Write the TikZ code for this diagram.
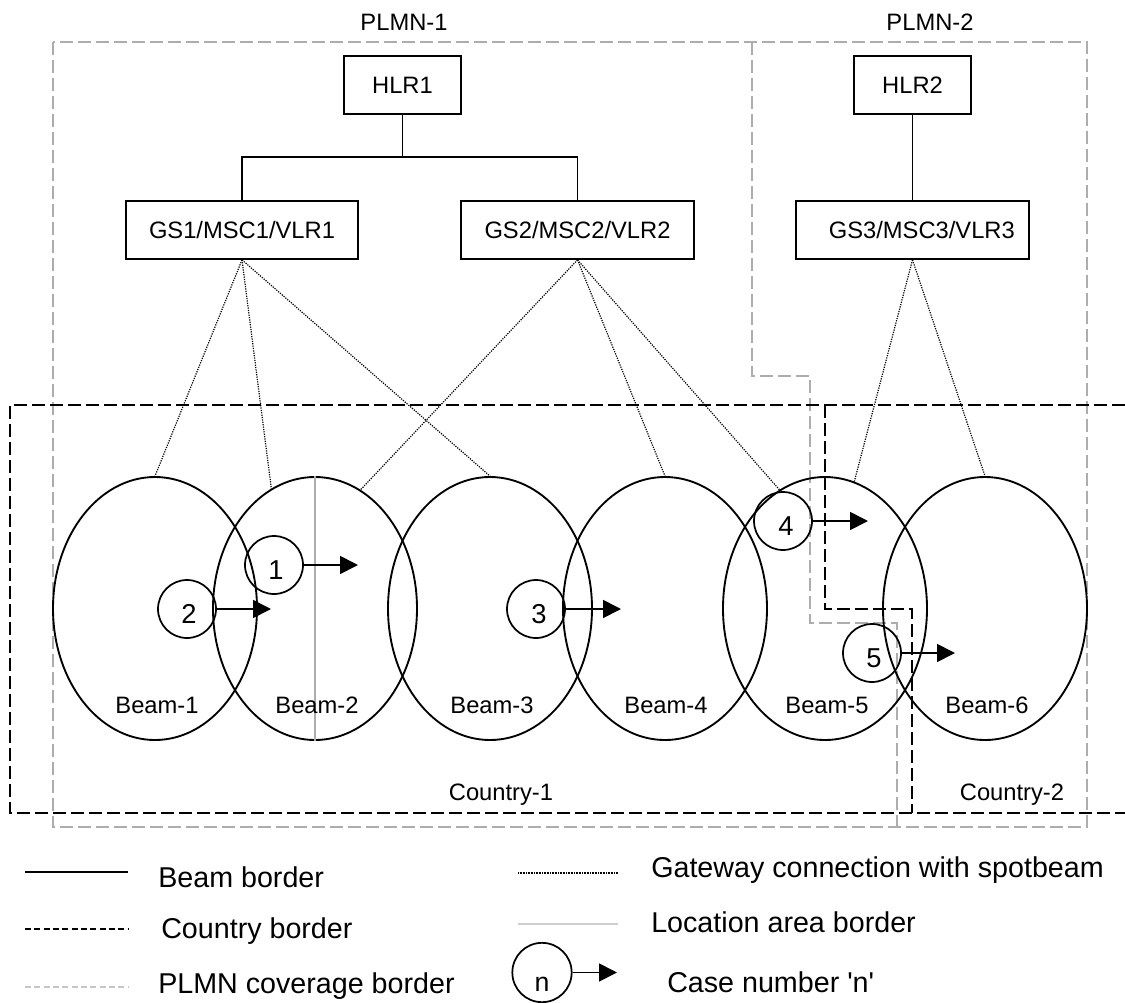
\documentclass[tikz,border=0pt]{standalone}
\usepackage{fontspec}
\setmainfont{Liberation Sans}
\usetikzlibrary{shapes.geometric,arrows.meta}

\definecolor{plmngray}{gray}{0.68}
\definecolor{lagray}{gray}{0.68}

\begin{document}
\begin{tikzpicture}[x=0.75pt,y=-0.75pt,
  txt/.style={font=\fontsize{17.8}{20}\selectfont, inner sep=0},
  legtxt/.style={font=\fontsize{21.5}{24}\selectfont, inner sep=0, anchor=west},
  numtxt/.style={font=\fontsize{20.5}{22}\selectfont, inner sep=0},
  netbox/.style={draw, line width=1.3pt, minimum height=43.5pt, inner sep=0,
                 font=\fontsize{17.8}{20}\selectfont},
  hlrbox/.style={netbox, minimum width=87.75pt},
  gsbox/.style={netbox, minimum width=174.5pt},
  beam/.style={draw, ellipse, line width=1.4pt, minimum width=153pt,
               minimum height=197.25pt, inner sep=0},
  casecirc/.style={draw, circle, line width=1.3pt, minimum size=43.5pt, inner sep=0},
  casearrow/.style={line width=1.3pt, -{Triangle[length=13.5pt,width=13.5pt]}},
  gwlink/.style={line width=0.9pt, dash pattern=on 0.9pt off 0.9pt},
  cntryborder/.style={line width=1.5pt, dash pattern=on 9.5pt off 4pt},
  plmnborder/.style={line width=1.2pt, plmngray, dash pattern=on 9.5pt off 4pt},
  laborder/.style={line width=1.2pt, lagray},
  link/.style={line width=1.3pt}
]
\useasboundingbox (0,0) rectangle (1125,1003);

% ---------- PLMN coverage borders ----------
\draw[plmnborder] (53,42) rectangle (1087,827);
\draw[plmnborder] (752,42) -- (752,376) -- (810,376) -- (810,623)
                  -- (897,623) -- (897,827);
\node[txt] (plmn1) at (404,22) {PLMN-1};
\node[txt] (plmn2) at (930,22) {PLMN-2};

% ---------- Country borders ----------
\draw[cntryborder] (1125,405) -- (10,405) -- (10,813) -- (1125,813);
\draw[cntryborder] (825,405) -- (825,609) -- (912,609) -- (912,813);
\node[txt] (cty1) at (501,795) {Country-1};
\node[txt] (cty2) at (1012,795) {Country-2};

% ---------- Network elements ----------
\node[hlrbox] (hlr1) at (402.5,85) {HLR1};
\node[hlrbox] (hlr2) at (912.5,85) {HLR2};
\node[gsbox] (gs1) at (242,230) {GS1/MSC1/VLR1};
\node[gsbox] (gs2) at (577.5,230) {GS2/MSC2/VLR2};
\node[gsbox] (gs3) at (912.5,230) {\hspace*{14pt}GS3/MSC3/VLR3};

\coordinate (split) at (402.5,157);
\draw[link] (hlr1.south) -- (split);
\draw[link] (gs1.north) |- (split) -| (gs2.north);
\draw[link] (hlr2.south) -- (gs3.north);

% ---------- Spot beams ----------
\node[beam] (b1) at (155,608.5) {};
\node[beam] (b2) at (315,608.5) {};
\node[beam] (b3) at (490,608.5) {};
\node[beam] (b4) at (665,608.5) {};
\node[beam] (b5) at (825,608.5) {};
\node[beam] (b6) at (985,608.5) {};

% location area border inside Beam-2
\draw[laborder] (b2.north) -- (b2.south);

\node[txt] (lb1) at (157,705) {Beam-1};
\node[txt] (lb2) at (317,705) {Beam-2};
\node[txt] (lb3) at (492,705) {Beam-3};
\node[txt] (lb4) at (666,705) {Beam-4};
\node[txt] (lb5) at (827,705) {Beam-5};
\node[txt] (lb6) at (987,705) {Beam-6};

% ---------- Gateway connections ----------
\draw[gwlink] (gs1.south) -- (b1.north);
\draw[gwlink] (gs1.south) -- (b2.110);
\draw[gwlink] (gs1.south) -- (b3.north);
\draw[gwlink] (gs2.south) -- (b2.69);
\draw[gwlink] (gs2.south) -- (b4.north);
\draw[gwlink] (gs2.south) -- (b5.111);
\draw[gwlink] (gs3.south) -- (b5.77);
\draw[gwlink] (gs3.south) -- (b6.north);

% ---------- Cases ----------
\node[casecirc] (c1) at (274,565) {};
\node[casecirc] (c2) at (187,609) {};
\node[casecirc] (c3) at (536,609) {};
\node[casecirc] (c4) at (783,521) {};
\node[casecirc] (c5) at (872,653) {};
\node[numtxt] (n1) at (276,570) {1};
\node[numtxt] (n2) at (189,614) {2};
\node[numtxt] (n3) at (539,614) {3};
\node[numtxt] (n4) at (786,526) {4};
\node[numtxt] (n5) at (874,658) {5};

\coordinate (t1) at (358,565);
\coordinate (t2) at (271,609);
\coordinate (t3) at (621,609);
\coordinate (t4) at (868,521);
\coordinate (t5) at (955,653);
\draw[casearrow] (c1.east) -- (t1);
\draw[casearrow] (c2.east) -- (t2);
\draw[casearrow] (c3.east) -- (t3);
\draw[casearrow] (c4.east) -- (t4);
\draw[casearrow] (c5.east) -- (t5);

% ---------- Legend ----------
\coordinate (l1a) at (25,872);  \coordinate (l1b) at (128,872);
\coordinate (l2a) at (25,929);  \coordinate (l2b) at (128,929);
\coordinate (l3a) at (25,987);  \coordinate (l3b) at (128,987);
\coordinate (l4a) at (518,873); \coordinate (l4b) at (618,873);
\coordinate (l5a) at (518,924); \coordinate (l5b) at (618,924);
\draw[link] (l1a) -- (l1b);
\draw[line width=1.1pt, dash pattern=on 4.5pt off 2.5pt] (l2a) -- (l2b);
\draw[line width=1.1pt, plmngray!70, dash pattern=on 4.5pt off 2.5pt] (l3a) -- (l3b);
\draw[line width=0.8pt, dash pattern=on 0.6pt off 0.6pt] (l4a) -- (l4b);
\draw[line width=1.1pt, lagray!60] (l5a) -- (l5b);

\node[legtxt] (lg1) at (158,877) {Beam border};
\node[legtxt] (lg2) at (161,931) {Country border};
\node[legtxt] (lg3) at (158,986) {PLMN coverage border};
\node[legtxt] (lg4) at (651,870) {Gateway connection with spotbeam};
\node[legtxt] (lg5) at (651,922) {Location area border};
\node[draw, circle, line width=1.3pt, minimum size=44.5pt, inner sep=0] (cn) at (542,972.5) {};
\node[font=\fontsize{20}{22}\selectfont, inner sep=0] (cnt) at (542,984) {n};
\coordinate (tn) at (617,972.5);
\draw[casearrow] (cn.east) -- (tn);
\node[legtxt] (lg6) at (667,982) {Case number \textquotesingle n\textquotesingle};
\end{tikzpicture}
\end{document}
